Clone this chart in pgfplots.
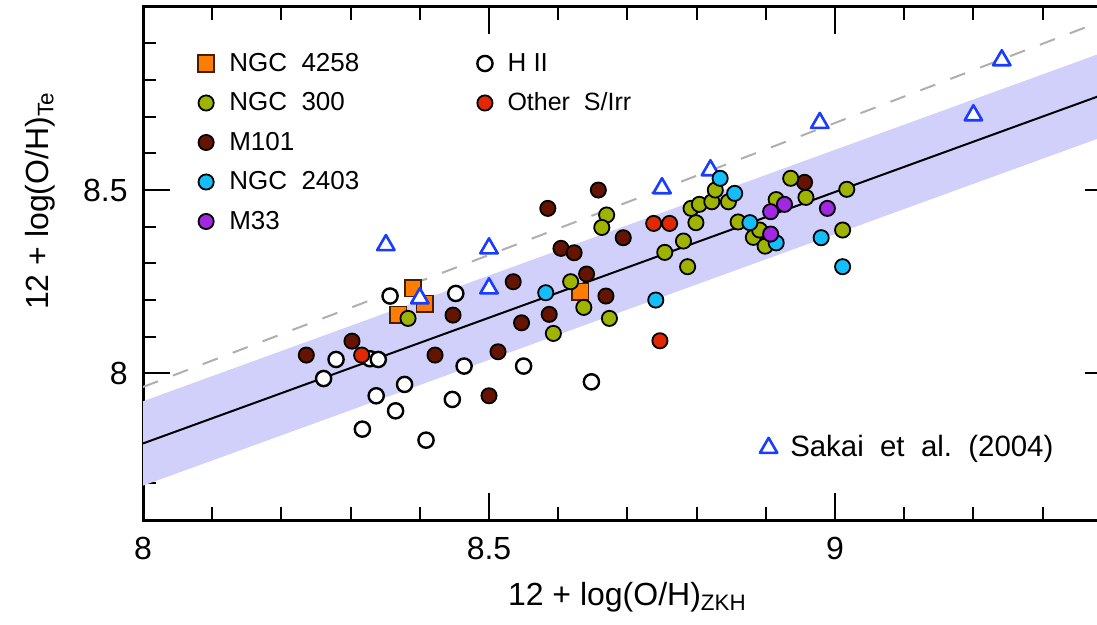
\documentclass[border=0pt]{standalone}
\usepackage{pgfplots}
\pgfplotsset{compat=1.18}
\usepackage{fontspec}
\setmainfont{Liberation Sans}

\definecolor{cNGCa}{RGB}{255,125,0}   % NGC 4258
\definecolor{cNGCaEdge}{RGB}{70,30,0}
\definecolor{cNGCb}{RGB}{158,180,0}   % NGC 300
\definecolor{cMh}{RGB}{100,20,0}      % M101
\definecolor{cNGCc}{RGB}{20,190,250}  % NGC 2403
\definecolor{cMt}{RGB}{160,40,225}    % M33
\definecolor{cOther}{RGB}{225,40,0}   % other spirals / irregulars
\definecolor{cSakai}{RGB}{25,60,255}
\definecolor{cBand}{RGB}{208,208,250}
\definecolor{cDash}{RGB}{175,175,175}

% legend text: fixed height, no depth, so rows line up on the cap middle
\newcommand{\lt}[2][9.4pt]{\rule{0pt}{#1}\smash{#2}}

\pgfplotsset{
  legimg/.style={legend image code/.code={\draw[##1] plot coordinates {(0pt,0pt)};}},
  grp/.style={only marks, mark=*, mark size=3.8pt, line width=0.9pt,
              draw=black, fill=#1, legimg},
  hii/.style={only marks, mark=*, mark size=3.8pt, line width=1.2pt,
              draw=black, fill=white, legimg},
  sq/.style={only marks, mark=square*, mark size=4.1pt, line width=0.9pt,
             draw=cNGCaEdge, fill=cNGCa, legimg},
  sakai/.style={only marks, mark=triangle*, mark size=5pt, line width=1.3pt,
                line join=round, draw=cSakai, fill=white, legimg},
}

\begin{document}
\begin{tikzpicture}
\begin{axis}[
  name=ax,
  scale only axis, width=484.4pt, height=256.7pt,
  xmin=8, xmax=9.4, ymin=7.6, ymax=9.0,
  axis line style={line width=1.5pt},
  tick align=inside, tick pos=both,
  xtick={8,8.5,9}, xticklabels={8,8.5,9},
  ytick={8,8.5}, yticklabels={8,8.5},
  minor xtick={8.1,8.2,8.3,8.4,8.6,8.7,8.8,8.9,9.1,9.2,9.3},
  minor ytick={7.7,7.8,7.9,8.1,8.2,8.3,8.4,8.6,8.7,8.8,8.9},
  major tick length=13.5pt, minor tick length=6.5pt,
  every tick/.style={black, line width=1pt},
  /pgf/number format/assume math mode=true,
  tick label style={font=\fontsize{16}{19}\selectfont, inner sep=0pt},
  xticklabel style={yshift=-8.5pt},
  yticklabel style={xshift=-7.5pt},
  xlabel={12 + log(O/H)\textsubscript{ZKH}},
  ylabel={12 + log(O/H)\textsubscript{Te}},
  every axis x label/.style={at={(rel axis cs:0.5,0)}, anchor=north, yshift=-31pt,
    inner sep=0pt, font=\fontsize{16}{19}\selectfont},
  every axis y label/.style={at={(rel axis cs:0,0.6215)}, xshift=-51.5pt, rotate=90,
    anchor=center, inner sep=0pt, font=\fontsize{16}{19}\selectfont},
  legend columns=2,
  legend cell align=left,
  legend style={draw=none, fill=none, inner sep=0pt, outer sep=0pt,
    at={(rel axis cs:0.0567,0.9106)}, anchor=north west,
    font=\fontsize{13}{15}\selectfont,
    nodes={inner sep=0pt, outer sep=0pt},
    row sep=8.85pt,
    /tikz/every odd column/.style={column sep=7.5pt}},
]

% 1-sigma band around the fit
\addplot[draw=none, fill=cBand, forget plot]
  coordinates {(8,7.694) (9.4,8.654) (9.4,8.884) (8,7.924)} -- cycle;

% H II regions
\addplot[hii, forget plot] coordinates {
  (8.261,7.986) (8.279,8.038) (8.328,8.040) (8.340,8.038) (8.337,7.939)
  (8.378,7.970) (8.365,7.898) (8.317,7.848) (8.409,7.818) (8.447,7.929)
  (8.464,8.020) (8.550,8.020) (8.357,8.211) (8.452,8.218) (8.648,7.977)};

% NGC 4258
\addplot[sq, forget plot] coordinates {
  (8.390,8.232) (8.407,8.190) (8.369,8.160) (8.632,8.223)};

% Sakai et al. (2004)
\addplot[sakai, forget plot] coordinates {
  (8.351,8.350) (8.500,8.341) (8.500,8.232) (8.400,8.205) (8.750,8.505)
  (8.820,8.554) (8.978,8.683) (9.200,8.704) (9.241,8.854)};

% M101
\addplot[grp=cMh, forget plot] coordinates {
  (8.236,8.050) (8.302,8.088) (8.422,8.050) (8.448,8.159) (8.500,7.939)
  (8.513,8.059) (8.535,8.250) (8.547,8.138) (8.587,8.161) (8.585,8.450)
  (8.604,8.341) (8.623,8.329) (8.641,8.271) (8.658,8.500) (8.669,8.211)
  (8.694,8.370) (8.956,8.521)};

% NGC 300
\addplot[grp=cNGCb, forget plot] coordinates {
  (8.383,8.150) (8.618,8.250) (8.593,8.109) (8.670,8.432) (8.663,8.398)
  (8.637,8.180) (8.674,8.150) (8.754,8.330) (8.781,8.361) (8.787,8.291)
  (8.799,8.411) (8.792,8.450) (8.804,8.461) (8.822,8.468) (8.827,8.500)
  (8.846,8.468) (8.860,8.413) (8.882,8.371) (8.891,8.391) (8.899,8.347)
  (8.915,8.474) (8.936,8.532) (8.958,8.480) (9.011,8.391) (9.017,8.502)};

% NGC 2403
\addplot[grp=cNGCc, forget plot] coordinates {
  (8.582,8.220) (8.741,8.200) (8.834,8.532) (8.855,8.491) (8.877,8.411)
  (8.915,8.356) (8.980,8.370) (9.011,8.291)};

% M33
\addplot[grp=cMt, forget plot] coordinates {
  (8.907,8.441) (8.927,8.461) (8.907,8.380) (8.989,8.450)};

% other spirals and irregulars
\addplot[grp=cOther, forget plot] coordinates {
  (8.316,8.050) (8.738,8.409) (8.761,8.409) (8.747,8.089)};

% fit and offset relation
\addplot[black, line width=1pt, forget plot] coordinates {(8,7.809) (9.4,8.769)};
\addplot[cDash, line width=1pt, dash pattern=on 8pt off 8pt, forget plot]
  coordinates {(8,7.963) (9.4,8.971)};

\addlegendimage{sq}\addlegendentry{\makebox[124pt][l]{\lt{NGC\ \ 4258}}}
\addlegendimage{hii}\addlegendentry{\lt{H II}}
\addlegendimage{grp=cNGCb}\addlegendentry{\makebox[124pt][l]{\lt{NGC\ \ 300}}}
\addlegendimage{grp=cOther}\addlegendentry{\lt{\fontsize{12.5}{14}\selectfont Other\ \ S/Irr}}
\addlegendimage{grp=cMh}\addlegendentry{\makebox[124pt][l]{\lt{M101}}}
\addlegendimage{empty legend}\addlegendentry{}
\addlegendimage{grp=cNGCc}\addlegendentry{\makebox[124pt][l]{\lt{NGC\ \ 2403}}}
\addlegendimage{empty legend}\addlegendentry{}
\addlegendimage{grp=cMt}\addlegendentry{\makebox[124pt][l]{\lt{M33}}}
\addlegendimage{empty legend}\addlegendentry{}
\end{axis}

% second legend, lower right
\begin{axis}[
  scale only axis, width=484.4pt, height=256.7pt,
  xmin=8, xmax=9.4, ymin=7.6, ymax=9.0, hide axis,
  legend cell align=left,
  legend style={draw=none, fill=none, inner sep=0pt, outer sep=0pt,
    at={(axis cs:8.906,7.797)}, anchor=west, xshift=-5pt,
    font=\fontsize{14.7}{17}\selectfont,
    nodes={inner sep=0pt, outer sep=0pt},
    /tikz/every odd column/.style={column sep=6.5pt}},
]
\addlegendimage{sakai}
\addlegendentry{\lt[10.5pt]{Sakai\ \ et\ \ al.\ \ (2004)}}
\end{axis}

\pgfresetboundingbox
\useasboundingbox ([xshift=-71.5pt,yshift=-52pt]ax.south west)
  rectangle ([xshift=-7.4pt,yshift=3.35pt]ax.north east);
\end{tikzpicture}
\end{document}
